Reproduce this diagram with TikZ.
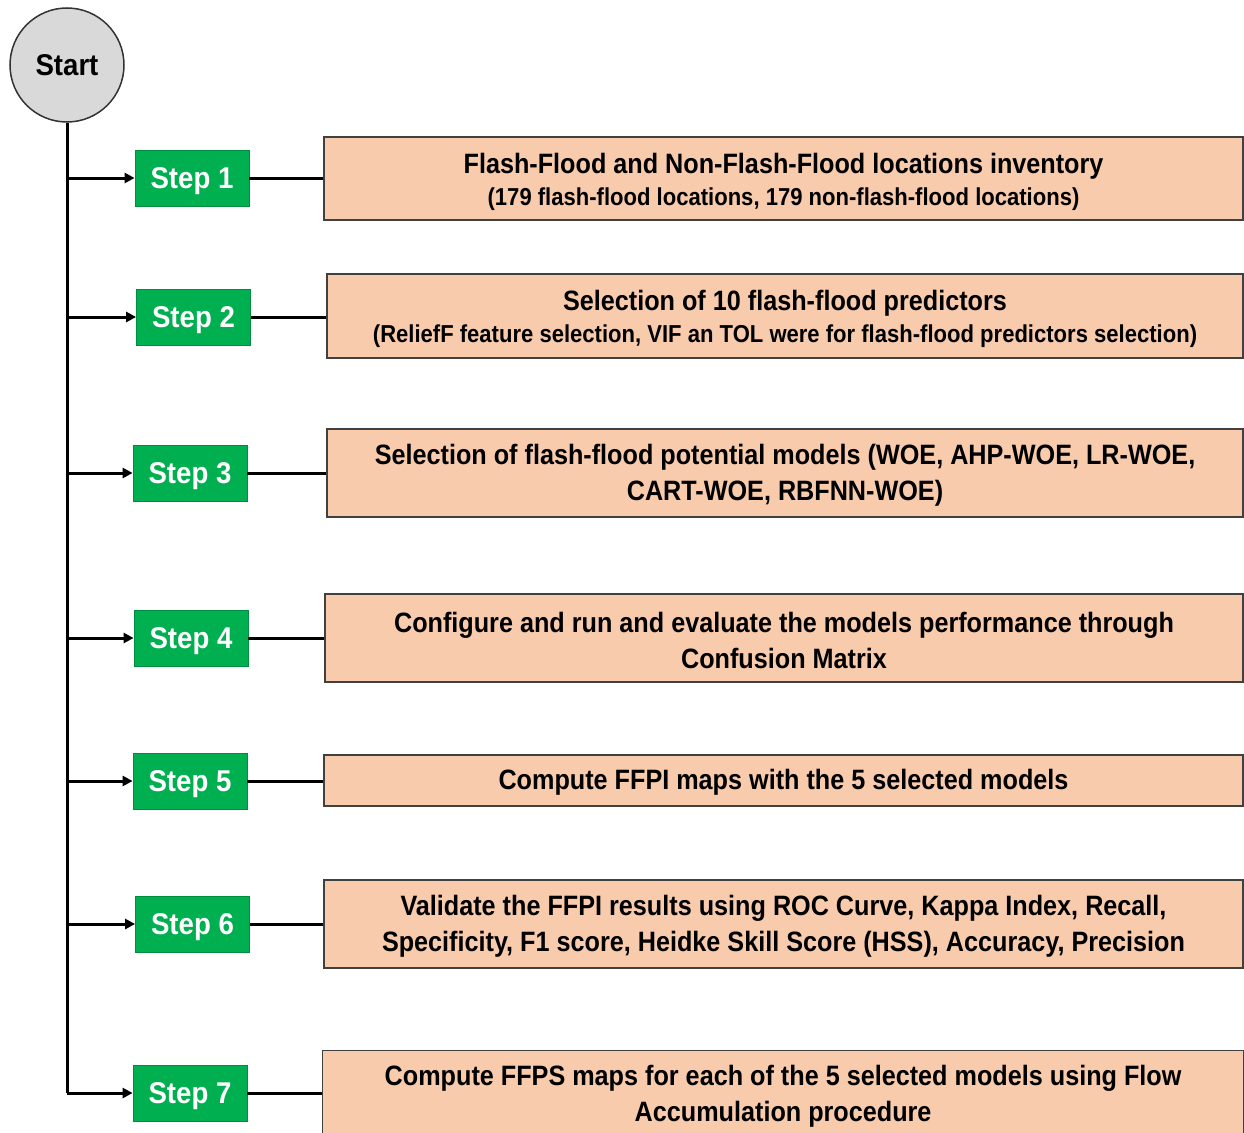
\documentclass[tikz,border=0pt]{standalone}
\usepackage{fontspec}
\setmainfont{Liberation Sans}[FakeStretch=0.9]
\newfontfamily\stepfont{Liberation Sans}[FakeStretch=0.92]
\usetikzlibrary{arrows.meta}
\definecolor{stepgreen}{HTML}{00B050}
\definecolor{boxorange}{HTML}{F8CBAD}
\definecolor{startgray}{HTML}{D9D9D9}
\tikzset{
  stepbox/.style={draw=stepgreen!80!black, line width=0.8pt, fill=stepgreen, text=white,
    minimum width=114pt, minimum height=56pt, inner sep=0pt, text height=22pt, text depth=2pt,
    font=\stepfont\bfseries\fontsize{30}{34}\selectfont},
  taskbox/.style={draw=black!75, line width=1.2pt, fill=boxorange, inner sep=0pt},
  tasktext/.style={inner sep=0pt, align=center, font=\bfseries\fontsize{28}{36}\selectfont},
  small/.style={},
  link/.style={line width=3pt, black},
  arr/.style={line width=3pt, black, -{Triangle[length=10pt,width=10pt]}},
}
\newcommand{\sublinefont}{\fontsize{24.5}{28}\selectfont}
\begin{document}
\begin{tikzpicture}[x=1pt,y=-1pt]
\useasboundingbox (0,0) rectangle (1244,1132);
\node[circle, draw=black!80, line width=1.5pt, fill=startgray, minimum size=114pt, inner sep=0pt,
  text height=22pt, text depth=2pt,
  font=\stepfont\bfseries\fontsize{30}{34}\selectfont] (start) at (67,65) {Start};

\node[stepbox] (s1) at (192,178) {Step 1};
\node[stepbox] (s2) at (193.5,317) {Step 2};
\node[stepbox] (s3) at (190,473) {Step 3};
\node[stepbox] (s4) at (191,638) {Step 4};
\node[stepbox] (s5) at (190,781) {Step 5};
\node[stepbox] (s6) at (192.5,924) {Step 6};
\node[stepbox] (s7) at (190,1093) {Step 7};

\node[taskbox, minimum width=919pt, minimum height=83pt] (b1) at (783.5,178.5) {};
\node[taskbox, minimum width=916pt, minimum height=84pt] (b2) at (785,316) {};
\node[taskbox, minimum width=916pt, minimum height=88pt] (b3) at (785,473) {};
\node[taskbox, minimum width=918pt, minimum height=88pt] (b4) at (784,638) {};
\node[taskbox, minimum width=919pt, minimum height=51pt] (b5) at (783.5,780.5) {};
\node[taskbox, minimum width=919pt, minimum height=88pt] (b6) at (783.5,924) {};
\node[taskbox, minimum width=921pt, minimum height=88pt, anchor=north west] (b7) at (322,1050) {};

\node[tasktext] (t1) at ([yshift=-3pt]b1.center)
  {Flash-Flood and Non-Flash-Flood locations inventory\\[-4pt]{\sublinefont (179 flash-flood locations, 179 non-flash-flood locations)}};
\node[tasktext] (t2) at ([yshift=-3pt]b2.center)
  {Selection of 10 flash-flood predictors\\[-4pt]{\sublinefont (ReliefF feature selection, VIF an TOL were for flash-flood predictors selection)}};
\node[tasktext] (t3) at ([yshift=-2pt]b3.center)
  {Selection of flash-flood potential models (WOE, AHP-WOE, LR-WOE,\\CART-WOE, RBFNN-WOE)};
\node[tasktext] (t4) at ([yshift=-2pt]b4.center)
  {Configure and run and evaluate the models performance through\\Confusion Matrix};
\node[tasktext] (t5) at ([yshift=-2pt]b5.center)
  {Compute FFPI maps with the 5 selected models};
\node[tasktext] (t6) at ([yshift=-2pt]b6.center)
  {Validate the FFPI results using ROC Curve, Kappa Index, Recall,\\Specificity, F1 score, Heidke Skill Score (HSS), Accuracy, Precision};
\node[tasktext] (t7) at ([yshift=-2pt]b7.center)
  {Compute FFPS maps for each of the 5 selected models using Flow\\Accumulation procedure};

\coordinate (corner) at (67,1093);
\draw[link] (start.south) -- (corner);
\draw[arr] (corner) -- (s7.west);
\foreach \s in {s1,s2,s3,s4,s5,s6}{
  \draw[arr] (start.south |- \s.west) -- (\s.west);
}
\foreach \s/\b in {s1/b1,s2/b2,s3/b3,s4/b4,s5/b5,s6/b6,s7/b7}{
  \draw[link] (\s.east) -- (\b.west |- \s.east);
}
\end{tikzpicture}
\end{document}
